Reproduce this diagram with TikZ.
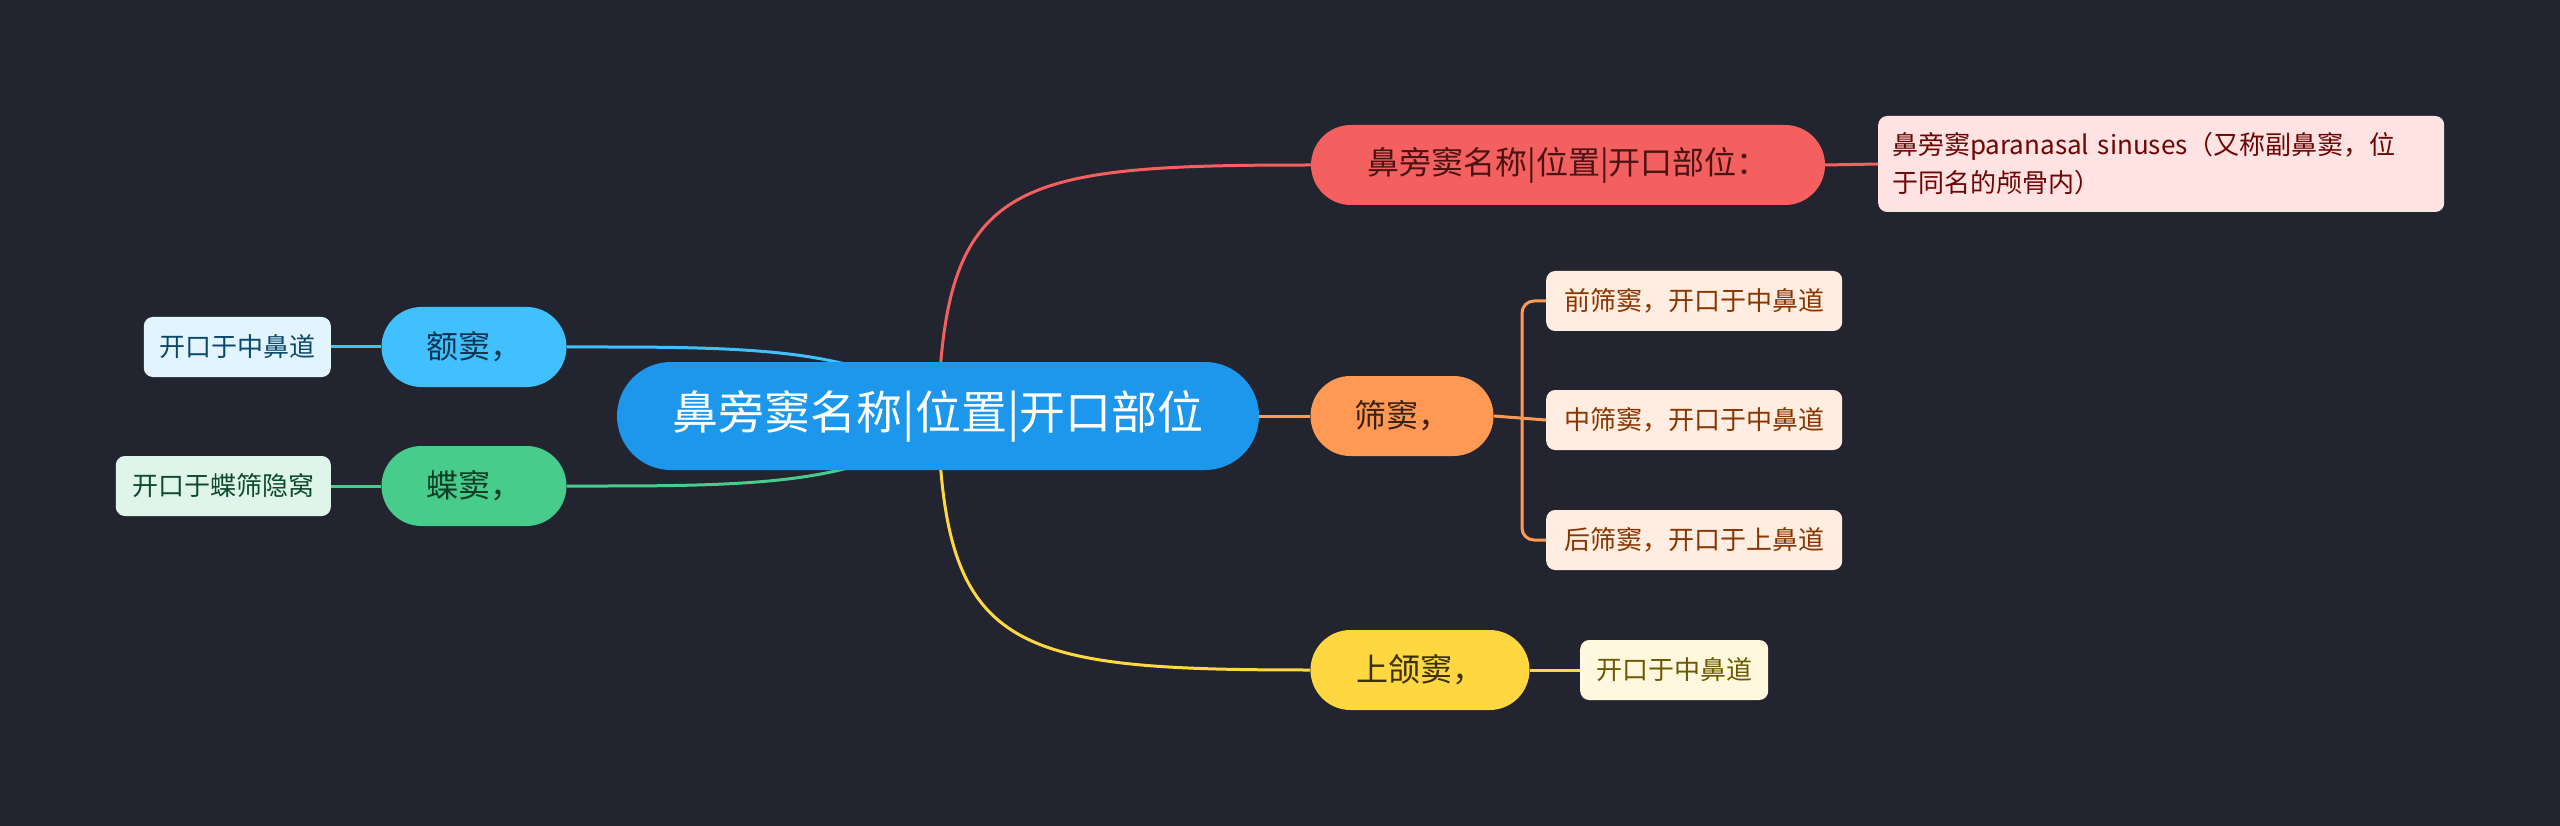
\documentclass[tikz,border=0pt]{standalone}
\usepackage{fontspec}
\setmainfont{Noto Sans CJK SC}
\usetikzlibrary{backgrounds}

\definecolor{bgdark}{HTML}{22252F}
\definecolor{rootblue}{HTML}{1C97EC}
\definecolor{redmain}{HTML}{F45F5F}
\definecolor{redleaf}{HTML}{FFE2E2}
\definecolor{redtext}{HTML}{6E0505}
\definecolor{redink}{HTML}{4A1414}
\definecolor{orangemain}{HTML}{FF9954}
\definecolor{orangeleaf}{HTML}{FFEDE1}
\definecolor{orangetext}{HTML}{8A3500}
\definecolor{orangeink}{HTML}{3D2212}
\definecolor{yellowmain}{HTML}{FFD740}
\definecolor{yellowleaf}{HTML}{FFF8DE}
\definecolor{yellowtext}{HTML}{6E5800}
\definecolor{yellowink}{HTML}{3B3005}
\definecolor{bluemain}{HTML}{40C0FF}
\definecolor{blueleaf}{HTML}{E1F4FF}
\definecolor{bluetext}{HTML}{0B4A6B}
\definecolor{blueink}{HTML}{0D3550}
\definecolor{greenmain}{HTML}{48CC8B}
\definecolor{greenleaf}{HTML}{E0F5EA}
\definecolor{greentext}{HTML}{0E4A2C}
\definecolor{greenink}{HTML}{0F3D26}

\begin{document}
\begin{tikzpicture}[
    x=1pt, y=-1pt,
    topic/.style={rounded corners=40pt, minimum height=80pt, inner sep=0pt,
        font=\fontsize{32}{38}\selectfont},
    leaf/.style={rounded corners=9pt, minimum height=60pt, inner xsep=12pt,
        inner ysep=0pt, font=\fontsize{26}{38}\selectfont},
    link/.style={line width=3pt},
]

\useasboundingbox (0,0) rectangle (2560,826);

% =============================================================================
% Root
% =============================================================================
\node[fill=rootblue, text=white, rounded corners=54pt, minimum width=642pt,
    minimum height=108pt, inner sep=0pt, font=\fontsize{46}{50}\selectfont]
    (root) at (938,416) {鼻旁窦名称|位置|开口部位};

% =============================================================================
% Right side
% =============================================================================

% --- Name / position / opening ---
\node[topic, fill=redmain, text=redink, minimum width=514pt]
    (name) at (1568,165) {鼻旁窦名称|位置|开口部位：};
\node[leaf, fill=redleaf, text=redtext, anchor=west, text width=538pt,
    align=left, inner xsep=14pt, minimum height=96pt]
    (nameleaf) at (1878,164) {鼻旁窦paranasal sinuses（又称副鼻窦，位\\于同名的颅骨内）};

% --- Ethmoid ---
\node[topic, fill=orangemain, text=orangeink, minimum width=183pt]
    (eth) at (1402,416) {筛窦，};
\node[leaf, fill=orangeleaf, text=orangetext, anchor=west, minimum width=296pt]
    (ethA) at (1546,301) {前筛窦，开口于中鼻道};
\node[leaf, fill=orangeleaf, text=orangetext, anchor=west, minimum width=296pt]
    (ethB) at (1546,420) {中筛窦，开口于中鼻道};
\node[leaf, fill=orangeleaf, text=orangetext, anchor=west, minimum width=296pt]
    (ethC) at (1546,540) {后筛窦，开口于上鼻道};
\coordinate (ethfork) at (1522,420);

% --- Maxillary ---
\node[topic, fill=yellowmain, text=yellowink, minimum width=219pt]
    (max) at (1420,670) {上颌窦，};
\node[leaf, fill=yellowleaf, text=yellowtext, anchor=west, minimum width=188pt]
    (maxleaf) at (1580,670) {开口于中鼻道};

% =============================================================================
% Left side
% =============================================================================

% --- Frontal ---
\node[topic, fill=bluemain, text=blueink, minimum width=185pt]
    (front) at (474,347) {额窦，};
\node[leaf, fill=blueleaf, text=bluetext, anchor=east, minimum width=187pt]
    (frontleaf) at (331,347) {开口于中鼻道};

% --- Sphenoid ---
\node[topic, fill=greenmain, text=greenink, minimum width=185pt]
    (sphen) at (474,486) {蝶窦，};
\node[leaf, fill=greenleaf, text=greentext, anchor=east, minimum width=215pt]
    (sphenleaf) at (331,486) {开口于蝶筛隐窝};

% =============================================================================
% Connectors (behind the nodes)
% =============================================================================
\begin{scope}[on background layer]
    \fill[bgdark] (0,0) rectangle (2560,826);

    \draw[link, redmain] (root.center) .. controls (944,180) and (1010,165) .. (name.west);
    \draw[link, redmain] (name.east) -- (nameleaf.west);

    \draw[link, orangemain] (root.east) -- (eth.west);
    \draw[link, orangemain] (eth.east) -- (ethB.west);
    \draw[link, orangemain, rounded corners=12pt] (ethA.west) -| (ethfork) |- (ethC.west);

    \draw[link, yellowmain] (root.center) .. controls (944,652) and (1010,670) .. (max.west);
    \draw[link, yellowmain] (max.east) -- (maxleaf.west);

    \draw[link, bluemain] (front.east) .. controls (740,347) and (880,345) .. (root.center);
    \draw[link, bluemain] (frontleaf.east) -- (front.west);

    \draw[link, greenmain] (sphen.east) .. controls (740,486) and (880,488) .. (root.center);
    \draw[link, greenmain] (sphenleaf.east) -- (sphen.west);
\end{scope}

\end{tikzpicture}
\end{document}
